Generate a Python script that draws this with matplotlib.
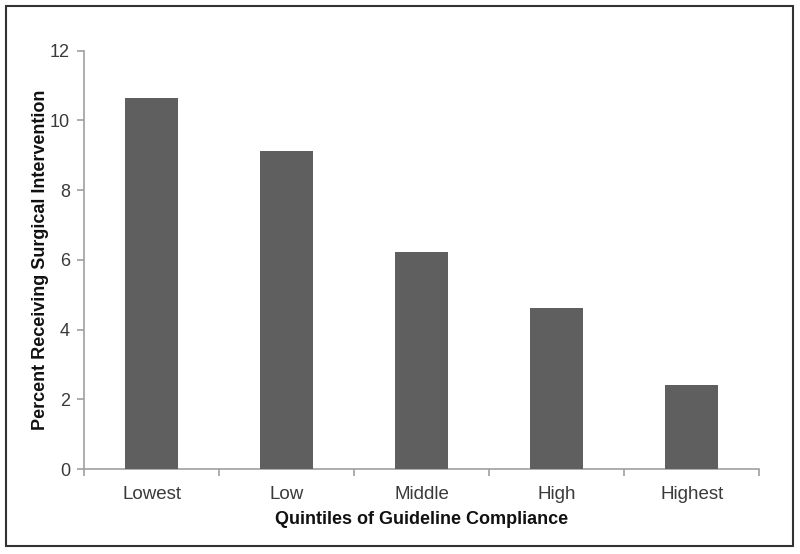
import matplotlib
matplotlib.use('Agg')
import matplotlib.pyplot as plt
from matplotlib.patches import Rectangle

quintiles = ['Lowest', 'Low', 'Middle', 'High', 'Highest']
percent = [10.63, 9.12, 6.23, 4.63, 2.41]

plt.rcParams['font.family'] = ['Liberation Sans', 'DejaVu Sans']

fig = plt.figure(figsize=(8, 5.54), dpi=100)
ax = fig.add_axes([0.105, 0.1534, 0.844, 0.7554])

x = range(len(quintiles))
ax.bar(x, percent, width=0.39, color='#5f5f5f', zorder=3)

ax.set_xlim(-0.5, len(quintiles) - 0.5)
ax.set_ylim(0, 12)
ax.set_yticks([0, 2, 4, 6, 8, 10, 12])
ax.set_xticks(x)
ax.set_xticklabels(quintiles)
ax.set_xticks([i - 0.5 for i in range(len(quintiles) + 1)], minor=True)

axis_col = '#a0a0a0'
for s in ['top', 'right']:
    ax.spines[s].set_visible(False)
for s in ['left', 'bottom']:
    ax.spines[s].set_color(axis_col)
    ax.spines[s].set_linewidth(1.2)

ax.tick_params(axis='y', colors=axis_col, length=5, width=1.2, labelsize=13,
               labelcolor='#3a3a3a', pad=5)
ax.tick_params(axis='x', which='major', length=0, labelsize=13.5,
               labelcolor='#3a3a3a', pad=12)
ax.tick_params(axis='x', which='minor', colors=axis_col, length=5, width=1.2)

ax.set_xlabel('Quintiles of Guideline Compliance', fontsize=13, fontweight='bold',
              color='#111111', labelpad=6)
ax.set_ylabel('Percent Receiving Surgical Intervention', fontsize=13,
              fontweight='bold', color='#111111', labelpad=1)

# border around the whole figure
fig.patches.append(Rectangle((6 / 800, 8 / 554), 787 / 800, 540 / 554,
                             transform=fig.transFigure, fill=False,
                             edgecolor='#333333', linewidth=1.5))

fig.savefig('out.png', dpi=100)
